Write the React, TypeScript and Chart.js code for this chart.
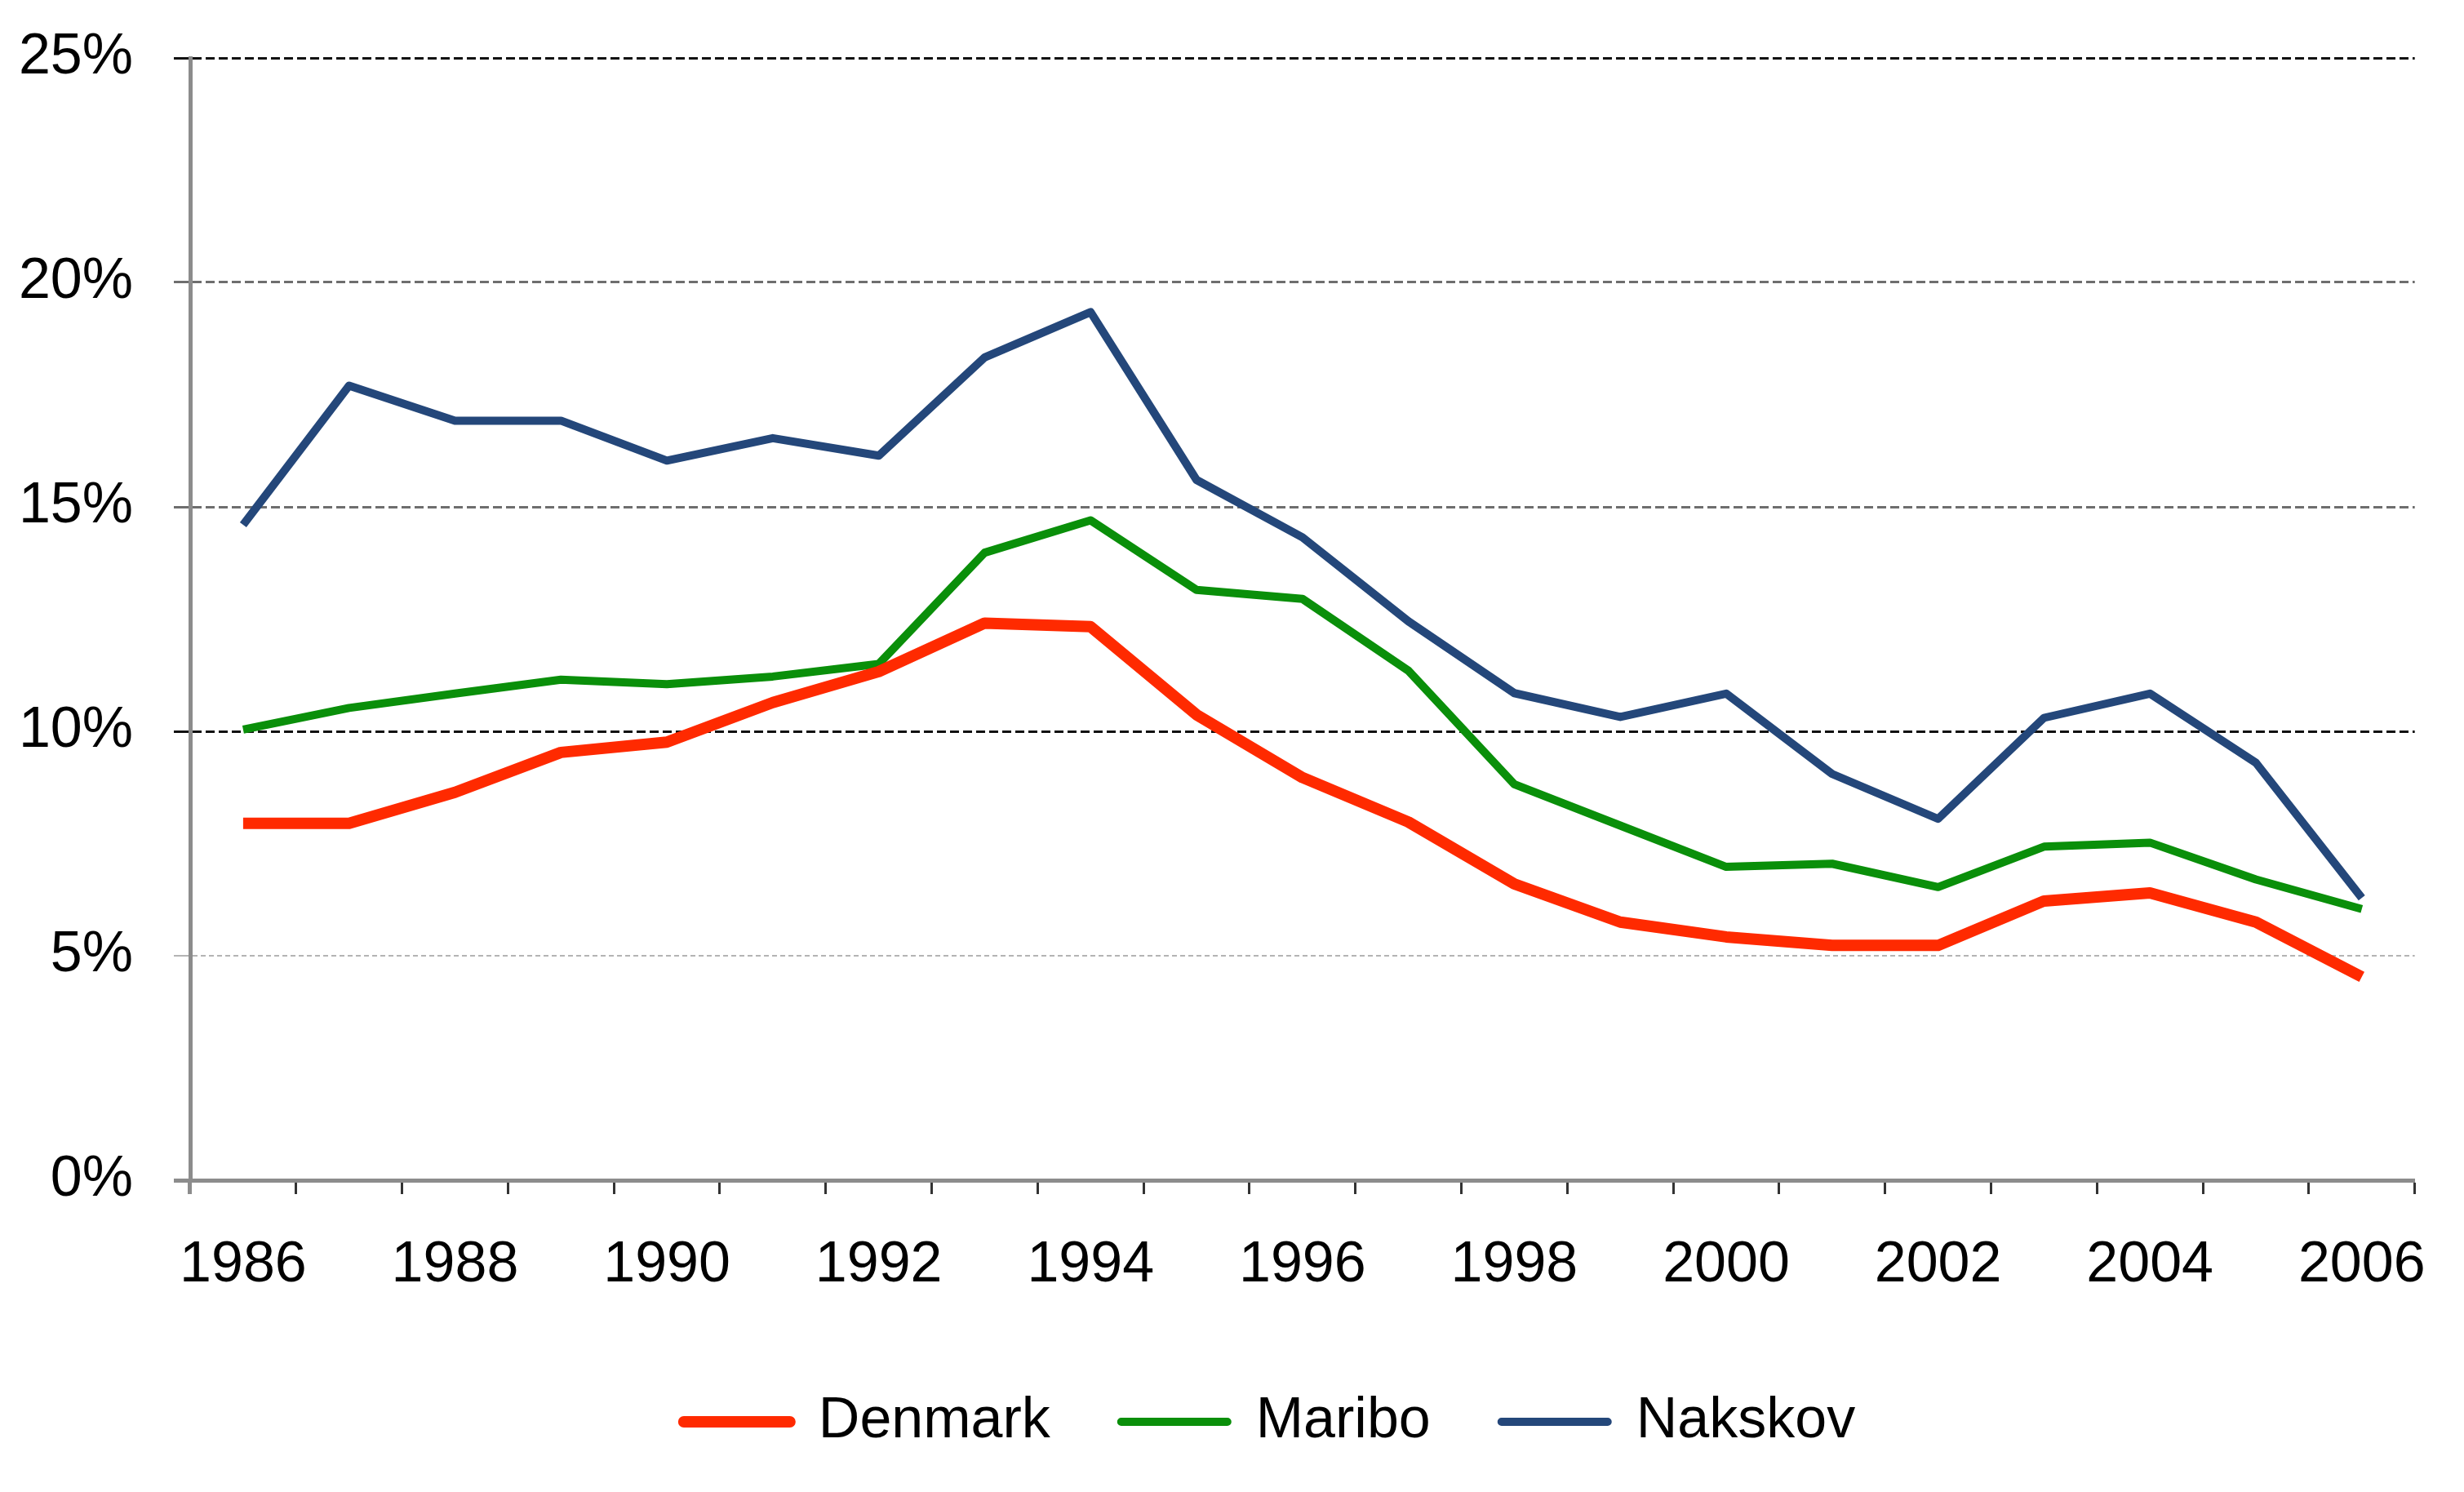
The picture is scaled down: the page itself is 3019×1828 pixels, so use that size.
import React, { useEffect, useRef } from "react";
import { Chart, registerables } from "chart.js";

Chart.register(...registerables);

const years = [
  "1986", "1987", "1988", "1989", "1990", "1991", "1992", "1993", "1994", "1995", "1996",
  "1997", "1998", "1999", "2000", "2001", "2002", "2003", "2004", "2005", "2006",
];

const denmark = [7.95, 7.95, 8.64, 9.53, 9.76, 10.64, 11.33, 12.41, 12.33, 10.37, 8.97, 7.98, 6.6, 5.75, 5.42, 5.23, 5.23, 6.22, 6.4, 5.75, 4.53];
const maribo = [10.04, 10.52, 10.84, 11.15, 11.05, 11.22, 11.5, 13.98, 14.7, 13.15, 12.95, 11.35, 8.82, 7.9, 6.98, 7.05, 6.53, 7.43, 7.52, 6.7, 6.04];
const nakskov = [14.6, 17.7, 16.92, 16.92, 16.03, 16.53, 16.14, 18.33, 19.34, 15.6, 14.32, 12.45, 10.85, 10.32, 10.84, 9.05, 8.05, 10.3, 10.84, 9.3, 6.29];

const yTicks = [0, 5, 10, 15, 20, 25];

const FONT = "'Liberation Sans', Arial, sans-serif";
const AXIS_GRAY = "#8c8c8c";

const gridColorFor = (v: number) => {
  if (v === 0) return AXIS_GRAY;
  if (v === 5) return "#b4b4b4";
  if (v === 10 || v === 25) return "#111";
  return "#6e6e6e";
};

const legendOffset = {
  id: "legendOffset",
  beforeDraw(chart: any) {
    const lg = chart.legend;
    if (lg) {
      lg.left = 149;
    }
  },
};

export default function App() {
  const ref = useRef<HTMLCanvasElement | null>(null);

  useEffect(() => {
    if (!ref.current) return;
    const chart = new Chart(ref.current, {
      type: "line",
      data: {
        labels: years,
        datasets: [
          {
            label: "Denmark",
            data: denmark,
            borderColor: "#ff2a00",
            backgroundColor: "#ff2a00",
            borderWidth: 14,
            pointRadius: 0,
            tension: 0,
            borderJoinStyle: "round",
          },
          {
            label: "Maribo",
            data: maribo,
            borderColor: "#0a8f0a",
            backgroundColor: "#0a8f0a",
            borderWidth: 10,
            pointRadius: 0,
            tension: 0,
            borderJoinStyle: "round",
          },
          {
            label: "Nakskov",
            data: nakskov,
            borderColor: "#24477a",
            backgroundColor: "#24477a",
            borderWidth: 10,
            pointRadius: 0,
            tension: 0,
            borderJoinStyle: "round",
          },
        ],
      },
      plugins: [legendOffset],
      options: {
        responsive: false,
        animation: false,
        devicePixelRatio: 1,
        layout: { padding: { left: 0, right: 57, top: 71, bottom: 41 } },
        plugins: {
          tooltip: { enabled: false },
          legend: {
            position: "bottom",
            labels: {
              font: { size: 70, family: FONT },
              color: "#000",
              boxWidth: 130,
              boxHeight: 0,
              padding: 87,
            },
          },
        },
        scales: {
          x: {
            type: "category",
            offset: true,
            afterFit: (scale: any) => {
              scale.height = 174;
            },
            grid: {
              offset: true,
              drawOnChartArea: false,
              drawTicks: true,
              tickLength: 17,
              tickColor: (ctx: any) => (ctx.index === 0 ? AXIS_GRAY : "#333"),
              tickWidth: (ctx: any) => (ctx.index === 0 ? 5 : 3),
            },
            border: { display: true, color: AXIS_GRAY, width: 5 },
            ticks: {
              autoSkip: false,
              maxRotation: 0,
              minRotation: 0,
              padding: 46,
              color: "#000",
              font: { size: 70, family: FONT },
              callback: (_v: any, i: number) => (i % 2 === 0 ? years[i] : ""),
            },
          },
          y: {
            min: 0,
            max: 25,
            afterFit: (scale: any) => {
              scale.width = 233;
              scale.paddingTop = 0;
              scale.paddingBottom = 0;
            },
            afterBuildTicks: (scale: any) => {
              scale.ticks = yTicks.map((v) => ({ value: v }));
            },
            grid: {
              drawTicks: true,
              tickLength: 20,
              color: (ctx: any) => {
                const v = ctx.tick ? ctx.tick.value : -1;
                return v === 0 ? "rgba(0,0,0,0)" : gridColorFor(v);
              },
              lineWidth: (ctx: any) => {
                const v = ctx.tick ? ctx.tick.value : -1;
                return v === 5 ? 2 : 3;
              },
              tickColor: (ctx: any) => gridColorFor(ctx.tick ? ctx.tick.value : -1),
              tickWidth: (ctx: any) => {
                const v = ctx.tick ? ctx.tick.value : -1;
                if (v === 0) return 5;
                return v === 5 ? 2 : 3;
              },
            },
            border: {
              display: true,
              color: AXIS_GRAY,
              width: 5,
              dash: (ctx: any) => {
                if (!ctx.tick) return [];
                return ctx.tick.value === 5 ? [6, 4] : [11, 5];
              },
            },
            ticks: {
              padding: 50,
              color: "#000",
              font: { size: 70, family: FONT },
              callback: (v: any) => `${v}%`,
            },
          },
        },
      },
    });
    return () => chart.destroy();
  }, []);

  return (
    <div style={{ position: "fixed", left: 0, top: 0, width: 3019, height: 1828, background: "#fff" }}>
      <canvas ref={ref} width={3019} height={1828} style={{ display: "block" }} />
    </div>
  );
}
